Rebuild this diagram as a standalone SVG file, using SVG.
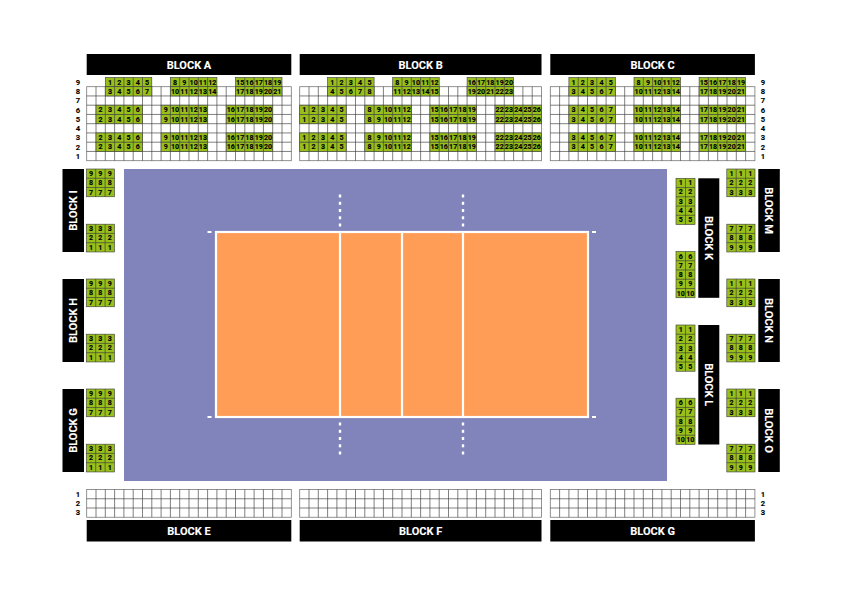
<svg xmlns="http://www.w3.org/2000/svg" xmlns:xlink="http://www.w3.org/1999/xlink" width="842" height="596" viewBox="0 0 842 596">
<style>
text{font-family:"Roboto","Liberation Sans",sans-serif;font-weight:700;text-anchor:middle;fill:#000;font-size:7.1px;stroke:#000;stroke-width:.12}
.bar{fill:#000}
text.t{fill:#fff;stroke:#fff;stroke-width:.1;font-size:11px}
.g{fill:#98bf1a;stroke:#444;stroke-width:.65}
.w{fill:#fff;stroke:#777;stroke-width:.8}
.l{fill:none;stroke:#3c3c3c;stroke-width:.65}
.d{fill:#fff}
text.r{font-size:7.6px}
</style>
<defs>
<g id="s5"><rect class="g" width="46.5" height="9.25"/><path class="l" d="M9.3 0v9.25M18.6 0v9.25M27.9 0v9.25M37.2 0v9.25"/></g>
<g id="c3"><rect class="g" width="28.2" height="27.75"/><path class="l" d="M9.4 0v27.75M18.8 0v27.75M0 9.25h28.2M0 18.5h28.2"/></g>
<g id="c2"><rect class="g" width="19" height="46.25"/><path class="l" d="M9.5 0v46.25M0 9.25h19M0 18.5h19M0 27.75h19M0 37h19"/></g>
<path id="v22" class="l" d="M9.3 0V74M18.6 0V74M27.9 0V74M37.2 0V74M46.5 0V74M55.8 0V74M65.1 0V74M74.4 0V74M83.7 0V74M93 0V74M102.3 0V74M111.6 0V74M120.9 0V74M130.2 0V74M139.5 0V74M148.8 0V74M158.1 0V74M167.4 0V74M176.7 0V74M186 0V74M195.3 0V74"/>
<path id="h22" class="l" d="M0 9.25H204.6M0 18.5H204.6M0 27.75H204.6M0 37H204.6M0 46.25H204.6M0 55.5H204.6M0 64.75H204.6"/>
<path id="x22" class="l" d="M9.3 0V27.75M18.6 0V27.75M27.9 0V27.75M37.2 0V27.75M46.5 0V27.75M55.8 0V27.75M65.1 0V27.75M74.4 0V27.75M83.7 0V27.75M93 0V27.75M102.3 0V27.75M111.6 0V27.75M120.9 0V27.75M130.2 0V27.75M139.5 0V27.75M148.8 0V27.75M158.1 0V27.75M167.4 0V27.75M176.7 0V27.75M186 0V27.75M195.3 0V27.75M0 9.25H204.6M0 18.5H204.6"/>
<path id="v26" class="l" d="M9.3 0V74M18.6 0V74M27.9 0V74M37.2 0V74M46.5 0V74M55.8 0V74M65.1 0V74M74.4 0V74M83.7 0V74M93 0V74M102.3 0V74M111.6 0V74M120.9 0V74M130.2 0V74M139.5 0V74M148.8 0V74M158.1 0V74M167.4 0V74M176.7 0V74M186 0V74M195.3 0V74M204.6 0V74M213.9 0V74M223.2 0V74M232.5 0V74M0 9.25H241.8M0 18.5H241.8M0 27.75H241.8M0 37H241.8M0 46.25H241.8M0 55.5H241.8M0 64.75H241.8"/>
<path id="x26" class="l" d="M9.3 0V27.75M18.6 0V27.75M27.9 0V27.75M37.2 0V27.75M46.5 0V27.75M55.8 0V27.75M65.1 0V27.75M74.4 0V27.75M83.7 0V27.75M93 0V27.75M102.3 0V27.75M111.6 0V27.75M120.9 0V27.75M130.2 0V27.75M139.5 0V27.75M148.8 0V27.75M158.1 0V27.75M167.4 0V27.75M176.7 0V27.75M186 0V27.75M195.3 0V27.75M204.6 0V27.75M213.9 0V27.75M223.2 0V27.75M232.5 0V27.75M0 9.25H241.8M0 18.5H241.8"/>
</defs>
<rect width="842" height="596" fill="#fff"/>
<g id="court">
<rect x="124" y="169" width="543" height="312" fill="#8084bb"/>
<rect x="216" y="232" width="372" height="185" fill="#ff9c55" stroke="#fff" stroke-width="2.2"/>
<path d="M340 232V417M402 232V417M463 232V417" fill="none" stroke="#fff" stroke-width="2.2"/>
<g class="d">
<rect x="207.5" y="231" width="4" height="2"/><rect x="592" y="231" width="4" height="2"/><rect x="207.5" y="416" width="4" height="2"/><rect x="592" y="416" width="4" height="2"/>
<rect x="338.8" y="194.5" width="2.4" height="3"/><rect x="338.8" y="201.8" width="2.4" height="3"/><rect x="338.8" y="209" width="2.4" height="3"/><rect x="338.8" y="216.3" width="2.4" height="3"/><rect x="338.8" y="223.5" width="2.4" height="3"/>
<rect x="461.8" y="194.5" width="2.4" height="3"/><rect x="461.8" y="201.8" width="2.4" height="3"/><rect x="461.8" y="209" width="2.4" height="3"/><rect x="461.8" y="216.3" width="2.4" height="3"/><rect x="461.8" y="223.5" width="2.4" height="3"/>
<rect x="338.8" y="422.5" width="2.4" height="3"/><rect x="338.8" y="429.8" width="2.4" height="3"/><rect x="338.8" y="437" width="2.4" height="3"/><rect x="338.8" y="444.3" width="2.4" height="3"/><rect x="338.8" y="451.5" width="2.4" height="3"/>
<rect x="461.8" y="422.5" width="2.4" height="3"/><rect x="461.8" y="429.8" width="2.4" height="3"/><rect x="461.8" y="437" width="2.4" height="3"/><rect x="461.8" y="444.3" width="2.4" height="3"/><rect x="461.8" y="451.5" width="2.4" height="3"/>
</g>
</g>
<g id="row-labels">
<text class="r" x="78" y="84.8">9</text><text class="r" x="78" y="94">8</text><text class="r" x="78" y="103.3">7</text><text class="r" x="78" y="112.5">6</text><text class="r" x="78" y="121.8">5</text><text class="r" x="78" y="131">4</text><text class="r" x="78" y="140.3">3</text><text class="r" x="78" y="149.5">2</text><text class="r" x="78" y="158.8">1</text>
<text class="r" x="763" y="84.8">9</text><text class="r" x="763" y="94">8</text><text class="r" x="763" y="103.3">7</text><text class="r" x="763" y="112.5">6</text><text class="r" x="763" y="121.8">5</text><text class="r" x="763" y="131">4</text><text class="r" x="763" y="140.3">3</text><text class="r" x="763" y="149.5">2</text><text class="r" x="763" y="158.8">1</text>
<text class="r" x="78" y="496.6">1</text><text class="r" x="78" y="505.9">2</text><text class="r" x="78" y="515.1">3</text>
<text class="r" x="763" y="496.6">1</text><text class="r" x="763" y="505.9">2</text><text class="r" x="763" y="515.1">3</text>
</g>
<g id="block-a" transform="translate(86.7 0)">
<rect class="bar" y="54" width="204.6" height="21"/><text class="t" x="102.3" y="68.6">BLOCK A</text>
<rect class="w" y="86.7" width="204.6" height="74"/><g transform="translate(0 86.7)"><use xlink:href="#v22"/><use xlink:href="#h22"/></g>
<use xlink:href="#s5" x="18.6" y="77.45"/><use xlink:href="#s5" x="83.7" y="77.45"/><use xlink:href="#s5" x="148.8" y="77.45"/>
<use xlink:href="#s5" x="18.6" y="86.7"/><use xlink:href="#s5" x="83.7" y="86.7"/><use xlink:href="#s5" x="148.8" y="86.7"/>
<use xlink:href="#s5" x="9.3" y="105.2"/><use xlink:href="#s5" x="74.4" y="105.2"/><use xlink:href="#s5" x="139.5" y="105.2"/>
<use xlink:href="#s5" x="9.3" y="114.45"/><use xlink:href="#s5" x="74.4" y="114.45"/><use xlink:href="#s5" x="139.5" y="114.45"/>
<use xlink:href="#s5" x="9.3" y="132.95"/><use xlink:href="#s5" x="74.4" y="132.95"/><use xlink:href="#s5" x="139.5" y="132.95"/>
<use xlink:href="#s5" x="9.3" y="142.2"/><use xlink:href="#s5" x="74.4" y="142.2"/><use xlink:href="#s5" x="139.5" y="142.2"/>
<g transform="translate(0 84.6)"><text x="23.25">1</text><text x="32.55">2</text><text x="41.85">3</text><text x="51.15">4</text><text x="60.45">5</text><text x="88.35">8</text><text x="97.65">9</text><text x="106.95">10</text><text x="116.25">11</text><text x="125.55">12</text><text x="153.45">15</text><text x="162.75">16</text><text x="172.05">17</text><text x="181.35">18</text><text x="190.65">19</text></g>
<g transform="translate(0 93.8)"><text x="23.25">3</text><text x="32.55">4</text><text x="41.85">5</text><text x="51.15">6</text><text x="60.45">7</text><text x="88.35">10</text><text x="97.65">11</text><text x="106.95">12</text><text x="116.25">13</text><text x="125.55">14</text><text x="153.45">17</text><text x="162.75">18</text><text x="172.05">19</text><text x="181.35">20</text><text x="190.65">21</text></g>
<g transform="translate(0 112.3)"><text x="13.95">2</text><text x="23.25">3</text><text x="32.55">4</text><text x="41.85">5</text><text x="51.15">6</text><text x="79.05">9</text><text x="88.35">10</text><text x="97.65">11</text><text x="106.95">12</text><text x="116.25">13</text><text x="144.15">16</text><text x="153.45">17</text><text x="162.75">18</text><text x="172.05">19</text><text x="181.35">20</text></g>
<g transform="translate(0 121.5)"><text x="13.95">2</text><text x="23.25">3</text><text x="32.55">4</text><text x="41.85">5</text><text x="51.15">6</text><text x="79.05">9</text><text x="88.35">10</text><text x="97.65">11</text><text x="106.95">12</text><text x="116.25">13</text><text x="144.15">16</text><text x="153.45">17</text><text x="162.75">18</text><text x="172.05">19</text><text x="181.35">20</text></g>
<g transform="translate(0 140.1)"><text x="13.95">2</text><text x="23.25">3</text><text x="32.55">4</text><text x="41.85">5</text><text x="51.15">6</text><text x="79.05">9</text><text x="88.35">10</text><text x="97.65">11</text><text x="106.95">12</text><text x="116.25">13</text><text x="144.15">16</text><text x="153.45">17</text><text x="162.75">18</text><text x="172.05">19</text><text x="181.35">20</text></g>
<g transform="translate(0 149.3)"><text x="13.95">2</text><text x="23.25">3</text><text x="32.55">4</text><text x="41.85">5</text><text x="51.15">6</text><text x="79.05">9</text><text x="88.35">10</text><text x="97.65">11</text><text x="106.95">12</text><text x="116.25">13</text><text x="144.15">16</text><text x="153.45">17</text><text x="162.75">18</text><text x="172.05">19</text><text x="181.35">20</text></g>
</g>
<g id="block-b" transform="translate(299.7 0)">
<rect class="bar" y="54" width="241.8" height="21"/><text class="t" x="120.9" y="68.6">BLOCK B</text>
<rect class="w" y="86.7" width="241.8" height="74"/><use xlink:href="#v26" y="86.7"/>
<use xlink:href="#s5" x="27.9" y="77.45"/><use xlink:href="#s5" x="93" y="77.45"/><use xlink:href="#s5" x="167.4" y="77.45"/>
<use xlink:href="#s5" x="27.9" y="86.7"/><use xlink:href="#s5" x="93" y="86.7"/><use xlink:href="#s5" x="167.4" y="86.7"/>
<use xlink:href="#s5" y="105.2"/><use xlink:href="#s5" x="65.1" y="105.2"/><use xlink:href="#s5" x="130.2" y="105.2"/><use xlink:href="#s5" x="195.3" y="105.2"/>
<use xlink:href="#s5" y="114.45"/><use xlink:href="#s5" x="65.1" y="114.45"/><use xlink:href="#s5" x="130.2" y="114.45"/><use xlink:href="#s5" x="195.3" y="114.45"/>
<use xlink:href="#s5" y="132.95"/><use xlink:href="#s5" x="65.1" y="132.95"/><use xlink:href="#s5" x="130.2" y="132.95"/><use xlink:href="#s5" x="195.3" y="132.95"/>
<use xlink:href="#s5" y="142.2"/><use xlink:href="#s5" x="65.1" y="142.2"/><use xlink:href="#s5" x="130.2" y="142.2"/><use xlink:href="#s5" x="195.3" y="142.2"/>
<g transform="translate(0 84.6)"><text x="32.55">1</text><text x="41.85">2</text><text x="51.15">3</text><text x="60.45">4</text><text x="69.75">5</text><text x="97.65">8</text><text x="106.95">9</text><text x="116.25">10</text><text x="125.55">11</text><text x="134.85">12</text><text x="172.05">16</text><text x="181.35">17</text><text x="190.65">18</text><text x="199.95">19</text><text x="209.25">20</text></g>
<g transform="translate(0 93.8)"><text x="32.55">4</text><text x="41.85">5</text><text x="51.15">6</text><text x="60.45">7</text><text x="69.75">8</text><text x="97.65">11</text><text x="106.95">12</text><text x="116.25">13</text><text x="125.55">14</text><text x="134.85">15</text><text x="172.05">19</text><text x="181.35">20</text><text x="190.65">21</text><text x="199.95">22</text><text x="209.25">23</text></g>
<g transform="translate(0 112.3)"><text x="4.65">1</text><text x="13.95">2</text><text x="23.25">3</text><text x="32.55">4</text><text x="41.85">5</text><text x="69.75">8</text><text x="79.05">9</text><text x="88.35">10</text><text x="97.65">11</text><text x="106.95">12</text><text x="134.85">15</text><text x="144.15">16</text><text x="153.45">17</text><text x="162.75">18</text><text x="172.05">19</text><text x="199.95">22</text><text x="209.25">23</text><text x="218.55">24</text><text x="227.85">25</text><text x="237.15">26</text></g>
<g transform="translate(0 121.5)"><text x="4.65">1</text><text x="13.95">2</text><text x="23.25">3</text><text x="32.55">4</text><text x="41.85">5</text><text x="69.75">8</text><text x="79.05">9</text><text x="88.35">10</text><text x="97.65">11</text><text x="106.95">12</text><text x="134.85">15</text><text x="144.15">16</text><text x="153.45">17</text><text x="162.75">18</text><text x="172.05">19</text><text x="199.95">22</text><text x="209.25">23</text><text x="218.55">24</text><text x="227.85">25</text><text x="237.15">26</text></g>
<g transform="translate(0 140.1)"><text x="4.65">1</text><text x="13.95">2</text><text x="23.25">3</text><text x="32.55">4</text><text x="41.85">5</text><text x="69.75">8</text><text x="79.05">9</text><text x="88.35">10</text><text x="97.65">11</text><text x="106.95">12</text><text x="134.85">15</text><text x="144.15">16</text><text x="153.45">17</text><text x="162.75">18</text><text x="172.05">19</text><text x="199.95">22</text><text x="209.25">23</text><text x="218.55">24</text><text x="227.85">25</text><text x="237.15">26</text></g>
<g transform="translate(0 149.3)"><text x="4.65">1</text><text x="13.95">2</text><text x="23.25">3</text><text x="32.55">4</text><text x="41.85">5</text><text x="69.75">8</text><text x="79.05">9</text><text x="88.35">10</text><text x="97.65">11</text><text x="106.95">12</text><text x="134.85">15</text><text x="144.15">16</text><text x="153.45">17</text><text x="162.75">18</text><text x="172.05">19</text><text x="199.95">22</text><text x="209.25">23</text><text x="218.55">24</text><text x="227.85">25</text><text x="237.15">26</text></g>
</g>
<g id="block-c" transform="translate(550.3 0)">
<rect class="bar" y="54" width="204.6" height="21"/><text class="t" x="102.3" y="68.6">BLOCK C</text>
<rect class="w" y="86.7" width="204.6" height="74"/><g transform="translate(0 86.7)"><use xlink:href="#v22"/><use xlink:href="#h22"/></g>
<use xlink:href="#s5" x="18.6" y="77.45"/><use xlink:href="#s5" x="83.7" y="77.45"/><use xlink:href="#s5" x="148.8" y="77.45"/>
<use xlink:href="#s5" x="18.6" y="86.7"/><use xlink:href="#s5" x="83.7" y="86.7"/><use xlink:href="#s5" x="148.8" y="86.7"/>
<use xlink:href="#s5" x="18.6" y="105.2"/><use xlink:href="#s5" x="83.7" y="105.2"/><use xlink:href="#s5" x="148.8" y="105.2"/>
<use xlink:href="#s5" x="18.6" y="114.45"/><use xlink:href="#s5" x="83.7" y="114.45"/><use xlink:href="#s5" x="148.8" y="114.45"/>
<use xlink:href="#s5" x="18.6" y="132.95"/><use xlink:href="#s5" x="83.7" y="132.95"/><use xlink:href="#s5" x="148.8" y="132.95"/>
<use xlink:href="#s5" x="18.6" y="142.2"/><use xlink:href="#s5" x="83.7" y="142.2"/><use xlink:href="#s5" x="148.8" y="142.2"/>
<g transform="translate(0 84.6)"><text x="23.25">1</text><text x="32.55">2</text><text x="41.85">3</text><text x="51.15">4</text><text x="60.45">5</text><text x="88.35">8</text><text x="97.65">9</text><text x="106.95">10</text><text x="116.25">11</text><text x="125.55">12</text><text x="153.45">15</text><text x="162.75">16</text><text x="172.05">17</text><text x="181.35">18</text><text x="190.65">19</text></g>
<g transform="translate(0 93.8)"><text x="23.25">3</text><text x="32.55">4</text><text x="41.85">5</text><text x="51.15">6</text><text x="60.45">7</text><text x="88.35">10</text><text x="97.65">11</text><text x="106.95">12</text><text x="116.25">13</text><text x="125.55">14</text><text x="153.45">17</text><text x="162.75">18</text><text x="172.05">19</text><text x="181.35">20</text><text x="190.65">21</text></g>
<g transform="translate(0 112.3)"><text x="23.25">3</text><text x="32.55">4</text><text x="41.85">5</text><text x="51.15">6</text><text x="60.45">7</text><text x="88.35">10</text><text x="97.65">11</text><text x="106.95">12</text><text x="116.25">13</text><text x="125.55">14</text><text x="153.45">17</text><text x="162.75">18</text><text x="172.05">19</text><text x="181.35">20</text><text x="190.65">21</text></g>
<g transform="translate(0 121.5)"><text x="23.25">3</text><text x="32.55">4</text><text x="41.85">5</text><text x="51.15">6</text><text x="60.45">7</text><text x="88.35">10</text><text x="97.65">11</text><text x="106.95">12</text><text x="116.25">13</text><text x="125.55">14</text><text x="153.45">17</text><text x="162.75">18</text><text x="172.05">19</text><text x="181.35">20</text><text x="190.65">21</text></g>
<g transform="translate(0 140.1)"><text x="23.25">3</text><text x="32.55">4</text><text x="41.85">5</text><text x="51.15">6</text><text x="60.45">7</text><text x="88.35">10</text><text x="97.65">11</text><text x="106.95">12</text><text x="116.25">13</text><text x="125.55">14</text><text x="153.45">17</text><text x="162.75">18</text><text x="172.05">19</text><text x="181.35">20</text><text x="190.65">21</text></g>
<g transform="translate(0 149.3)"><text x="23.25">3</text><text x="32.55">4</text><text x="41.85">5</text><text x="51.15">6</text><text x="60.45">7</text><text x="88.35">10</text><text x="97.65">11</text><text x="106.95">12</text><text x="116.25">13</text><text x="125.55">14</text><text x="153.45">17</text><text x="162.75">18</text><text x="172.05">19</text><text x="181.35">20</text><text x="190.65">21</text></g>
</g>
<g id="block-e" transform="translate(86.7 0)"><rect class="w" y="489.5" width="204.6" height="27.75"/><use xlink:href="#x22" y="489.5"/><rect class="bar" y="520" width="204.6" height="21.5"/><text class="t" x="102.3" y="534.8">BLOCK E</text></g>
<g id="block-f" transform="translate(299.7 0)"><rect class="w" y="489.5" width="241.8" height="27.75"/><use xlink:href="#x26" y="489.5"/><rect class="bar" y="520" width="241.8" height="21.5"/><text class="t" x="120.9" y="534.8">BLOCK F</text></g>
<g id="block-g-bottom" transform="translate(550.3 0)"><rect class="w" y="489.5" width="204.6" height="27.75"/><use xlink:href="#x22" y="489.5"/><rect class="bar" y="520" width="204.6" height="21.5"/><text class="t" x="102.3" y="534.8">BLOCK G</text></g>
<g id="block-i">
<rect class="bar" x="62.5" y="169" width="21.5" height="83"/><text class="t" transform="translate(77 210.5) rotate(-90)">BLOCK I</text>
<g transform="translate(86.3 169)"><use xlink:href="#c3"/><text x="4.7" y="7">9</text><text x="14.1" y="7">9</text><text x="23.5" y="7">9</text><text x="4.7" y="16.2">8</text><text x="14.1" y="16.2">8</text><text x="23.5" y="16.2">8</text><text x="4.7" y="25.5">7</text><text x="14.1" y="25.5">7</text><text x="23.5" y="25.5">7</text></g>
<g transform="translate(86.3 224.2)"><use xlink:href="#c3"/><text x="4.7" y="7">3</text><text x="14.1" y="7">3</text><text x="23.5" y="7">3</text><text x="4.7" y="16.2">2</text><text x="14.1" y="16.2">2</text><text x="23.5" y="16.2">2</text><text x="4.7" y="25.5">1</text><text x="14.1" y="25.5">1</text><text x="23.5" y="25.5">1</text></g>
</g>
<g id="block-h">
<rect class="bar" x="62.5" y="279" width="21.5" height="83"/><text class="t" transform="translate(77 320.5) rotate(-90)">BLOCK H</text>
<g transform="translate(86.3 279)"><use xlink:href="#c3"/><text x="4.7" y="7">9</text><text x="14.1" y="7">9</text><text x="23.5" y="7">9</text><text x="4.7" y="16.2">8</text><text x="14.1" y="16.2">8</text><text x="23.5" y="16.2">8</text><text x="4.7" y="25.5">7</text><text x="14.1" y="25.5">7</text><text x="23.5" y="25.5">7</text></g>
<g transform="translate(86.3 334.2)"><use xlink:href="#c3"/><text x="4.7" y="7">3</text><text x="14.1" y="7">3</text><text x="23.5" y="7">3</text><text x="4.7" y="16.2">2</text><text x="14.1" y="16.2">2</text><text x="23.5" y="16.2">2</text><text x="4.7" y="25.5">1</text><text x="14.1" y="25.5">1</text><text x="23.5" y="25.5">1</text></g>
</g>
<g id="block-g">
<rect class="bar" x="62.5" y="389" width="21.5" height="83"/><text class="t" transform="translate(77 430.5) rotate(-90)">BLOCK G</text>
<g transform="translate(86.3 389)"><use xlink:href="#c3"/><text x="4.7" y="7">9</text><text x="14.1" y="7">9</text><text x="23.5" y="7">9</text><text x="4.7" y="16.2">8</text><text x="14.1" y="16.2">8</text><text x="23.5" y="16.2">8</text><text x="4.7" y="25.5">7</text><text x="14.1" y="25.5">7</text><text x="23.5" y="25.5">7</text></g>
<g transform="translate(86.3 444.2)"><use xlink:href="#c3"/><text x="4.7" y="7">3</text><text x="14.1" y="7">3</text><text x="23.5" y="7">3</text><text x="4.7" y="16.2">2</text><text x="14.1" y="16.2">2</text><text x="23.5" y="16.2">2</text><text x="4.7" y="25.5">1</text><text x="14.1" y="25.5">1</text><text x="23.5" y="25.5">1</text></g>
</g>
<g id="block-m">
<rect class="bar" x="758.3" y="169" width="21.5" height="83"/><text class="t" transform="translate(765.3 210.5) rotate(90)">BLOCK M</text>
<g transform="translate(726.8 169)"><use xlink:href="#c3"/><text x="4.7" y="7">1</text><text x="14.1" y="7">1</text><text x="23.5" y="7">1</text><text x="4.7" y="16.2">2</text><text x="14.1" y="16.2">2</text><text x="23.5" y="16.2">2</text><text x="4.7" y="25.5">3</text><text x="14.1" y="25.5">3</text><text x="23.5" y="25.5">3</text></g>
<g transform="translate(726.8 224.2)"><use xlink:href="#c3"/><text x="4.7" y="7">7</text><text x="14.1" y="7">7</text><text x="23.5" y="7">7</text><text x="4.7" y="16.2">8</text><text x="14.1" y="16.2">8</text><text x="23.5" y="16.2">8</text><text x="4.7" y="25.5">9</text><text x="14.1" y="25.5">9</text><text x="23.5" y="25.5">9</text></g>
</g>
<g id="block-n">
<rect class="bar" x="758.3" y="279" width="21.5" height="83"/><text class="t" transform="translate(765.3 320.5) rotate(90)">BLOCK N</text>
<g transform="translate(726.8 279)"><use xlink:href="#c3"/><text x="4.7" y="7">1</text><text x="14.1" y="7">1</text><text x="23.5" y="7">1</text><text x="4.7" y="16.2">2</text><text x="14.1" y="16.2">2</text><text x="23.5" y="16.2">2</text><text x="4.7" y="25.5">3</text><text x="14.1" y="25.5">3</text><text x="23.5" y="25.5">3</text></g>
<g transform="translate(726.8 334.2)"><use xlink:href="#c3"/><text x="4.7" y="7">7</text><text x="14.1" y="7">7</text><text x="23.5" y="7">7</text><text x="4.7" y="16.2">8</text><text x="14.1" y="16.2">8</text><text x="23.5" y="16.2">8</text><text x="4.7" y="25.5">9</text><text x="14.1" y="25.5">9</text><text x="23.5" y="25.5">9</text></g>
</g>
<g id="block-o">
<rect class="bar" x="758.3" y="389" width="21.5" height="83"/><text class="t" transform="translate(765.3 430.5) rotate(90)">BLOCK O</text>
<g transform="translate(726.8 389)"><use xlink:href="#c3"/><text x="4.7" y="7">1</text><text x="14.1" y="7">1</text><text x="23.5" y="7">1</text><text x="4.7" y="16.2">2</text><text x="14.1" y="16.2">2</text><text x="23.5" y="16.2">2</text><text x="4.7" y="25.5">3</text><text x="14.1" y="25.5">3</text><text x="23.5" y="25.5">3</text></g>
<g transform="translate(726.8 444.2)"><use xlink:href="#c3"/><text x="4.7" y="7">7</text><text x="14.1" y="7">7</text><text x="23.5" y="7">7</text><text x="4.7" y="16.2">8</text><text x="14.1" y="16.2">8</text><text x="23.5" y="16.2">8</text><text x="4.7" y="25.5">9</text><text x="14.1" y="25.5">9</text><text x="23.5" y="25.5">9</text></g>
</g>
<g id="block-k">
<rect class="bar" x="698.3" y="178.3" width="21" height="119.5"/><text class="t" transform="translate(705 238) rotate(90)">BLOCK K</text>
<g transform="translate(676 178.3)"><use xlink:href="#c2"/><text x="4.75" y="7">1</text><text x="14.25" y="7">1</text><text x="4.75" y="16.2">2</text><text x="14.25" y="16.2">2</text><text x="4.75" y="25.5">3</text><text x="14.25" y="25.5">3</text><text x="4.75" y="34.7">4</text><text x="14.25" y="34.7">4</text><text x="4.75" y="44">5</text><text x="14.25" y="44">5</text></g>
<g transform="translate(676 251.5)"><use xlink:href="#c2"/><text x="4.75" y="7">6</text><text x="14.25" y="7">6</text><text x="4.75" y="16.2">7</text><text x="14.25" y="16.2">7</text><text x="4.75" y="25.5">8</text><text x="14.25" y="25.5">8</text><text x="4.75" y="34.7">9</text><text x="14.25" y="34.7">9</text><text x="4.75" y="44">10</text><text x="14.25" y="44">10</text></g>
</g>
<g id="block-l">
<rect class="bar" x="698.3" y="325" width="21" height="119.5"/><text class="t" transform="translate(705 384.7) rotate(90)">BLOCK L</text>
<g transform="translate(676 325)"><use xlink:href="#c2"/><text x="4.75" y="7">1</text><text x="14.25" y="7">1</text><text x="4.75" y="16.2">2</text><text x="14.25" y="16.2">2</text><text x="4.75" y="25.5">3</text><text x="14.25" y="25.5">3</text><text x="4.75" y="34.7">4</text><text x="14.25" y="34.7">4</text><text x="4.75" y="44">5</text><text x="14.25" y="44">5</text></g>
<g transform="translate(676 398.2)"><use xlink:href="#c2"/><text x="4.75" y="7">6</text><text x="14.25" y="7">6</text><text x="4.75" y="16.2">7</text><text x="14.25" y="16.2">7</text><text x="4.75" y="25.5">8</text><text x="14.25" y="25.5">8</text><text x="4.75" y="34.7">9</text><text x="14.25" y="34.7">9</text><text x="4.75" y="44">10</text><text x="14.25" y="44">10</text></g>
</g>
</svg>
